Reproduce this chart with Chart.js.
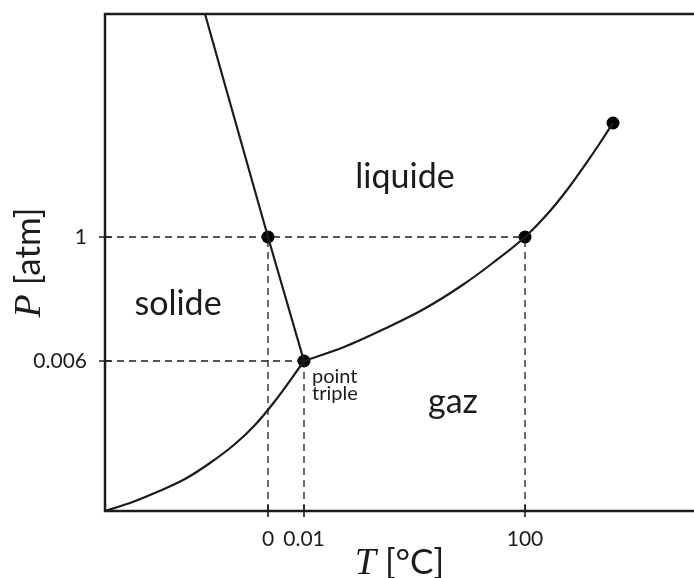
<!DOCTYPE html>
<html>
<head>
<meta charset="utf-8">
<script src="https://cdn.jsdelivr.net/npm/chart.js@4/dist/chart.umd.min.js"></script>
<style>
  html, body { margin: 0; padding: 0; background: #fff; }
  #wrap { width: 694px; height: 578px; }
</style>
</head>
<body>
<div id="wrap"><canvas id="phase"></canvas></div>
<script>
// schematic diagram units (not to scale)
const xMax = 589;
const yMax = 497;

const xTickPos = [163, 199, 420];
const xTickLabels = ["0", "0.01", "100"];
const yTickPos = [274, 150];
const yTickLabels = ["1", "0.006"];

// solid / liquid line
const fusionX = [100, 163, 199];
const fusionY = [497, 274, 150];
// solid / gas line
const sublimX = [0, 25, 52, 80, 105, 130, 150, 170, 199];
const sublimY = [0, 8, 19, 32, 48, 67, 86, 110, 150];
// liquid / gas line up to the critical point
const vaporX = [199, 239, 279, 319, 359, 389, 420, 445, 465, 480, 495, 508];
const vaporY = [150, 164, 182, 202, 227, 249, 274, 300, 325, 346, 368, 388];

// marked points: melting at 1 atm, triple, boiling, critical
const markX = [163, 199, 420, 508];
const markY = [274, 150, 274, 388];

const regionNames = ["liquide", "solide", "gaz"];
const regionX = [300, 73, 348];
const regionY = [323, 196, 98];

const ink = "#1c1c1c";
const sans = "Lato, 'Noto Sans', sans-serif";
const serif = "'Liberation Serif', 'DejaVu Serif', serif";

const pts = (xs, ys) => xs.map((x, i) => ({ x: x, y: ys[i] }));

const dashed = (a, b) => ({
  data: [a, b],
  borderColor: ink,
  borderWidth: 1.3,
  borderDash: [7, 5],
  pointRadius: 0,
  tension: 0,
});

const curve = (data) => ({
  data: data,
  borderColor: ink,
  borderWidth: 2.2,
  pointRadius: 0,
  cubicInterpolationMode: "monotone",
});

const guides = [
  dashed({ x: 0, y: yTickPos[0] }, { x: xTickPos[2], y: yTickPos[0] }),
  dashed({ x: 0, y: yTickPos[1] }, { x: xTickPos[1], y: yTickPos[1] }),
  dashed({ x: xTickPos[0], y: 0 }, { x: xTickPos[0], y: yTickPos[0] }),
  dashed({ x: xTickPos[1], y: 0 }, { x: xTickPos[1], y: yTickPos[1] }),
  dashed({ x: xTickPos[2], y: 0 }, { x: xTickPos[2], y: yTickPos[0] }),
];

const frame = {
  id: "frame",
  afterDatasetsDraw(chart) {
    const { ctx, chartArea: a, scales } = chart;
    ctx.save();
    ctx.strokeStyle = ink;
    ctx.lineWidth = 2.5;
    ctx.beginPath();
    ctx.moveTo(a.right, a.top);
    ctx.lineTo(a.left, a.top);
    ctx.lineTo(a.left, a.bottom);
    ctx.lineTo(a.right, a.bottom);
    ctx.stroke();
    ctx.lineWidth = 1.6;
    ctx.beginPath();
    xTickPos.forEach((v) => {
      const px = scales.x.getPixelForValue(v);
      ctx.moveTo(px, a.bottom - 6);
      ctx.lineTo(px, a.bottom + 6);
    });
    yTickPos.forEach((v) => {
      const py = scales.y.getPixelForValue(v);
      ctx.moveTo(a.left - 6, py);
      ctx.lineTo(a.left + 6, py);
    });
    ctx.stroke();
    ctx.restore();
  },
  afterDraw(chart) {
    const { ctx, chartArea: a, scales } = chart;
    ctx.save();
    ctx.fillStyle = ink;
    ctx.textBaseline = "alphabetic";

    ctx.textAlign = "center";
    ctx.font = "34px " + sans;
    regionNames.forEach((t, i) => {
      ctx.fillText(t, scales.x.getPixelForValue(regionX[i]), scales.y.getPixelForValue(regionY[i]));
    });

    ctx.textAlign = "left";
    ctx.font = "20px " + sans;
    ctx.fillText("point", scales.x.getPixelForValue(207), scales.y.getPixelForValue(128));
    ctx.fillText("triple", scales.x.getPixelForValue(207), scales.y.getPixelForValue(111));

    // axis titles, italic symbol + unit
    const title = (sym, unit, cx, cy, rot) => {
      ctx.save();
      ctx.translate(cx, cy);
      ctx.rotate(rot);
      ctx.font = "italic 38px " + serif;
      const w1 = ctx.measureText(sym).width;
      ctx.font = "35px " + sans;
      const w2 = ctx.measureText(unit).width;
      const x0 = -(w1 + w2) / 2;
      ctx.textAlign = "left";
      ctx.font = "italic 38px " + serif;
      ctx.fillText(sym, x0, 0);
      ctx.font = "35px " + sans;
      ctx.fillText(unit, x0 + w1, 0);
      ctx.restore();
    };
    title("T", " [°C]", (a.left + a.right) / 2, 574, 0);
    title("P", " [atm]", 40, (a.top + a.bottom) / 2, -Math.PI / 2);
    ctx.restore();
  },
};

new Chart(document.getElementById("phase"), {
  type: "line",
  data: {
    datasets: [
      ...guides,
      curve(pts(fusionX, fusionY)),
      curve(pts(sublimX, sublimY)),
      curve(pts(vaporX, vaporY)),
      {
        data: pts(markX, markY),
        showLine: false,
        pointRadius: 6.5,
        pointHoverRadius: 6.5,
        pointBackgroundColor: "#000",
        pointBorderWidth: 0,
      },
    ],
  },
  options: {
    responsive: true,
    maintainAspectRatio: false,
    animation: false,
    layout: { autoPadding: false, padding: { top: 14, right: 0, left: 0, bottom: 0 } },
    plugins: {
      legend: { display: false },
      tooltip: { enabled: false },
    },
    scales: {
      x: {
        type: "linear",
        min: 0,
        max: xMax,
        grid: { display: false, drawTicks: false },
        border: { display: false },
        afterBuildTicks: (s) => {
          s.ticks = xTickPos.map((v) => ({ value: v }));
        },
        afterFit: (s) => {
          s.height = 67;
          s.paddingLeft = 0;
          s.paddingRight = 0;
        },
        ticks: {
          autoSkip: false,
          maxRotation: 0,
          padding: 16,
          color: ink,
          font: { family: sans, size: 21 },
          callback: (v, i) => xTickLabels[i],
        },
      },
      y: {
        type: "linear",
        min: 0,
        max: yMax,
        grid: { display: false, drawTicks: false },
        border: { display: false },
        afterBuildTicks: (s) => {
          s.ticks = yTickPos.map((v) => ({ value: v }));
        },
        afterFit: (s) => {
          s.width = 105;
          s.paddingTop = 0;
          s.paddingBottom = 0;
        },
        ticks: {
          autoSkip: false,
          padding: 18,
          color: ink,
          font: { family: sans, size: 21 },
          callback: (v, i) => yTickLabels[i],
        },
      },
    },
  },
  plugins: [frame],
});
</script>
</body>
</html>
